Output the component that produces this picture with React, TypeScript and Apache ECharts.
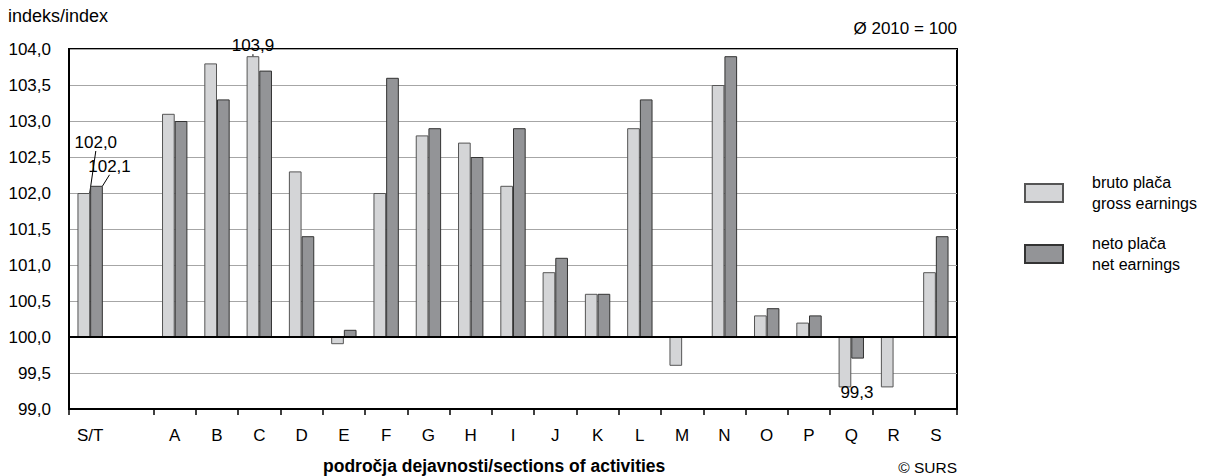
import React, { useEffect, useRef } from "react";
import * as echarts from "echarts";

const categories = ["S/T", "", "A", "B", "C", "D", "E", "F", "G", "H", "I", "J", "K", "L", "M", "N", "O", "P", "Q", "R", "S"];
const gross = [102.0, null, 103.1, 103.8, 103.9, 102.3, 99.9, 102.0, 102.8, 102.7, 102.1, 100.9, 100.6, 102.9, 99.6, 103.5, 100.3, 100.2, 99.3, 99.3, 100.9];
const net = [102.1, null, 103.0, 103.3, 103.7, 101.4, 100.1, 103.6, 102.9, 102.5, 102.9, 101.1, 100.6, 103.3, 100.0, 103.9, 100.4, 100.3, 99.7, 100.0, 101.4];
const BASE = 100;
const yTicks = { min: 99, max: 104, step: 0.5 };

const FONT = "'Liberation Sans', Arial, sans-serif";
const fmt = (v: number) => v.toFixed(1).replace(".", ",");

export default function App() {
  const ref = useRef<HTMLDivElement>(null);
  useEffect(() => {
    if (!ref.current) return;
    const chart = echarts.init(ref.current, undefined, { renderer: "svg" });
    const toData = (arr: (number | null)[]) =>
      arr.map((v) => (v == null ? null : +(v - BASE).toFixed(2)));

    const grossData: any[] = toData(gross).map((v, i) => {
      if (i === 0) return { value: v, label: { show: true, position: "top" } };
      if (i === 4) return { value: v, label: { show: true, position: "top", distance: 2 } };
      if (i === 18)
        return { value: v, label: { show: true, position: "bottom", distance: 0 }, labelLine: { show: false } };
      return v;
    });
    const netData: any[] = toData(net).map((v, i) => {
      if (i === 0) return { value: v, label: { show: true, position: "top" } };
      return v;
    });

    const labelStyle = {
      show: false,
      color: "#000",
      fontFamily: FONT,
      fontSize: 17,
    };

    chart.setOption({
      animation: false,
      textStyle: { fontFamily: FONT },
      grid: {
        left: 69,
        top: 49,
        width: 888,
        height: 360,
        show: true,
        borderColor: "#000",
        borderWidth: 2,
        backgroundColor: "transparent",
      },
      legend: {
        orient: "vertical",
        left: 1019,
        top: 167,
        itemWidth: 38,
        itemHeight: 18,
        itemGap: 19,
        icon: "rect",
        selectedMode: false,
        textStyle: { fontFamily: FONT, fontSize: 16, color: "#000", lineHeight: 21, padding: [0, 0, 0, 24] },
        data: ["bruto plača\ngross earnings", "neto plača\nnet earnings"],
      },
      xAxis: {
        type: "category",
        data: categories,
        boundaryGap: true,
        axisLine: { show: true, onZero: false, lineStyle: { color: "#000", width: 2 } },
        axisTick: {
          show: true,
          length: 6,
          lineStyle: { color: "#000", width: 1.5 },
          interval: (i: number) => i !== 1,
        },
        axisLabel: { color: "#000", fontSize: 17, fontFamily: FONT, margin: 18, interval: 0 },
        splitLine: { show: false },
      },
      yAxis: {
        type: "value",
        min: yTicks.min - BASE,
        max: yTicks.max - BASE,
        interval: yTicks.step,
        axisLine: { show: true, onZero: false, lineStyle: { color: "#000", width: 2 } },
        axisTick: { show: false },
        axisLabel: {
          color: "#000",
          fontSize: 17,
          fontFamily: FONT,
          margin: 18,
          formatter: (v: number) => fmt(v + BASE),
        },
        splitLine: { show: true, lineStyle: { color: "#a6a6a6", width: 1.2 } },
      },
      series: [
        {
          name: "bruto plača\ngross earnings",
          type: "bar",
          data: grossData,
          barWidth: "30%",
          barGap: "0%",
          itemStyle: { color: "#d4d5d7", borderColor: "#555", borderWidth: 1 },
          label: {
            ...labelStyle,
            formatter: (p: any) => fmt(gross[p.dataIndex] as number),
          },
          labelLayout: (p: any) =>
            p.dataIndex === 0 ? { dx: 12, dy: -37 } : p.dataIndex === 18 ? { dx: 12, dy: -3 } : {},
          labelLine: { show: true, lineStyle: { color: "#000", width: 1 } },
          markLine: {
            silent: true,
            symbol: "none",
            label: { show: false },
            lineStyle: { color: "#000", width: 1.8, type: "solid" },
            data: [{ yAxis: 0 }],
          },
        },
        {
          name: "neto plača\nnet earnings",
          type: "bar",
          data: netData,
          barWidth: "30%",
          barGap: "0%",
          itemStyle: { color: "#939497", borderColor: "#333", borderWidth: 1 },
          label: {
            ...labelStyle,
            formatter: (p: any) => fmt(net[p.dataIndex] as number),
          },
          labelLayout: (p: any) => (p.dataIndex === 0 ? { dx: 13, dy: -6 } : {}),
          labelLine: { show: true, lineStyle: { color: "#000", width: 1 } },
        },
      ],
      graphic: [
        { type: "text", left: 8, top: 7, style: { text: "indeks/index", font: `18px ${FONT}`, fill: "#000" } },
        { type: "text", right: 254, top: 20, style: { text: "Ø 2010 = 100", font: `17px ${FONT}`, fill: "#000" } },
        {
          type: "text",
          left: 323,
          top: 457,
          style: { text: "področja dejavnosti/sections of activities", font: `bold 17.5px ${FONT}`, fill: "#000" },
        },
        { type: "text", right: 254, top: 459, style: { text: "© SURS", font: `15.5px ${FONT}`, fill: "#000" } },
      ],
    });
    return () => chart.dispose();
  }, []);
  return <div ref={ref} style={{ width: 1211, height: 476, position: "absolute", left: 0, top: 0 }} />;
}
